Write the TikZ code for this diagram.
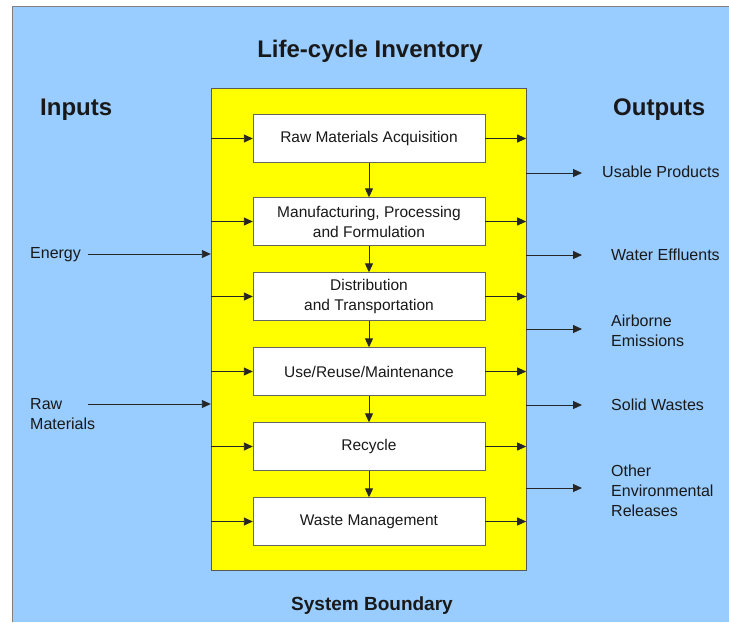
\documentclass[tikz,border=0pt]{standalone}
\usepackage{fontspec}
\setmainfont{Liberation Sans}
\usetikzlibrary{arrows.meta}
\definecolor{bgblue}{HTML}{99CCFF}
\definecolor{sysyellow}{HTML}{FFFF00}
\begin{document}
\begin{tikzpicture}[x=1pt,y=-1pt,
  stage/.style={draw=gray!80!black, fill=white, minimum width=232pt, minimum height=48pt, inner sep=0pt, align=center, font=\fontsize{15.5}{20}\selectfont, text=black!90},
  lbl/.style={anchor=west, align=left, inner sep=0pt, font=\fontsize{16}{20}\selectfont, text=black!90},
  ttl/.style={font=\bfseries\fontsize{24}{28}\selectfont, inner sep=0pt, text=black!90},
  flow/.style={draw=black!85, line width=0.9pt, -{Triangle[length=9pt,width=8pt]}},
]
\useasboundingbox (0,0) rectangle (729,622);
\fill[white] (0,0) rectangle (729,622);
\fill[bgblue] (12,6) rectangle (729,622);
\draw[gray, line width=1pt] (12,622) -- (12,6) -- (729,6);

\node[draw=gray!70!black, fill=sysyellow, minimum width=315pt, minimum height=482pt, inner sep=0pt] (sys) at (368.5,329.5) {};

\node[stage] (s1) at (369,138.5) {Raw Materials Acquisition};
\node[stage] (s2) at (369,221.5) {Manufacturing, Processing\\and Formulation};
\node[stage] (s3) at (369,296.5) {Distribution\\and Transportation};
\node[stage] (s4) at (369,371.5) {Use/Reuse/Maintenance};
\node[stage] (s5) at (369,446.5) {Recycle};
\node[stage] (s6) at (369,521.5) {Waste Management};

\foreach \s in {s1,s2,s3,s4,s5,s6} {
  \draw[flow] (sys.west |- \s.west) -- (\s.west);
  \draw[flow] (\s.east) -- (sys.east |- \s.east);
}
\draw[flow] (s1.south) -- (s2.north);
\draw[flow] (s2.south) -- (s3.north);
\draw[flow] (s3.south) -- (s4.north);
\draw[flow] (s4.south) -- (s5.north);
\draw[flow] (s5.south) -- (s6.north);

\node[ttl] (title) at (370,51) {Life-cycle Inventory};
\node[ttl, anchor=west] (inputs) at (40,110) {Inputs};
\node[ttl, anchor=west] (outputs) at (613,110) {Outputs};
\node[font=\bfseries\fontsize{19}{22}\selectfont, inner sep=0pt, text=black!90] (sb) at (372,606) {System Boundary};

\node[lbl] (energy) at (30,255) {Energy};
\coordinate (ein) at (88,254);
\draw[flow] (ein) -- (sys.west |- ein);
\node[lbl] (rawm) at (30,414) {Raw\\Materials};
\coordinate (rin) at (88,404);
\draw[flow] (rin) -- (sys.west |- rin);

\coordinate (o1) at (582,173);
\coordinate (o2) at (582,255);
\coordinate (o3) at (582,329);
\coordinate (o4) at (582,405);
\coordinate (o5) at (582,488);
\foreach \o in {o1,o2,o3,o4,o5} {
  \draw[flow] (sys.east |- \o) -- (\o);
}
\node[lbl] (usable) at (602,172) {Usable Products};
\node[lbl] (water) at (611,255) {Water Effluents};
\node[lbl] (air) at (611,331) {Airborne\\Emissions};
\node[lbl] (solid) at (611,405) {Solid Wastes};
\node[lbl] (other) at (611,491) {Other\\Environmental\\Releases};
\end{tikzpicture}
\end{document}
